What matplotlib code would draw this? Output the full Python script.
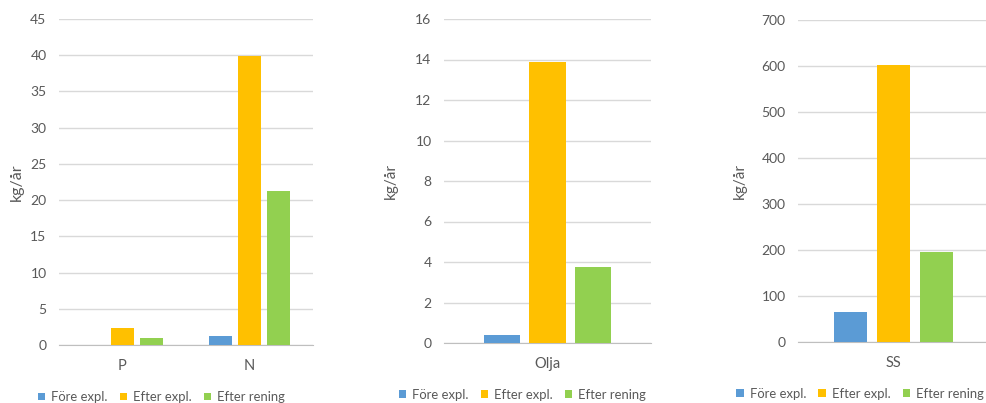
import numpy as np
import matplotlib
matplotlib.use('Agg')
import matplotlib.pyplot as plt

# data
series = ['Före expl.', 'Efter expl.', 'Efter rening']
colors = ['#5B9BD5', '#FFC000', '#92D050']

cats_1 = ['P', 'N']
fore_1 = [0.0, 1.2]
efter_1 = [2.4, 39.9]
rening_1 = [0.95, 21.2]

cats_2 = ['Olja']
fore_2 = [0.4]
efter_2 = [13.9]
rening_2 = [3.75]

cats_3 = ['SS']
fore_3 = [65]
efter_3 = [602]
rening_3 = [195]

W, H = 987, 403
plt.rcParams['font.family'] = ['Lato', 'DejaVu Sans']
TXT = '#595959'

fig = plt.figure(figsize=(W / 100, H / 100), dpi=100)


def px_axes(x0, x1, ytop, ybot):
    return fig.add_axes([x0 / W, 1 - ybot / H, (x1 - x0) / W, (ybot - ytop) / H])


def panel(ax, cats, vals, ymax, ystep, bw, step, leg_x, ylab_x, ylab_size=11):
    x = np.arange(len(cats))
    for i, (v, c) in enumerate(zip(vals, colors)):
        ax.bar(x + (i - 1) * step, v, bw, color=c, label=series[i], zorder=3)
    ax.set_xlim(-0.5, len(cats) - 0.5)
    ax.set_ylim(0, ymax)
    ax.set_yticks(np.arange(0, ymax + ystep / 2, ystep))
    ax.yaxis.grid(True, color='#d9d9d9', linewidth=1, zorder=0)
    ax.set_axisbelow(True)
    for s in ['top', 'right', 'left']:
        ax.spines[s].set_visible(False)
    ax.spines['bottom'].set_color('#bfbfbf')
    ax.set_xticks(x)
    ax.set_xticklabels(cats)
    ax.tick_params(axis='both', length=0, colors=TXT, labelsize=10)
    ax.tick_params(axis='x', pad=10, labelsize=10.5)
    ax.tick_params(axis='y', pad=9)
    ax.set_ylabel('kg/år', color=TXT, fontsize=ylab_size)
    ax.yaxis.set_label_coords(ylab_x, 0.5)
    ax.legend(loc='center left', bbox_to_anchor=(leg_x, -0.16), ncol=3, frameon=False,
              fontsize=9.4, labelcolor=TXT, handlelength=0.55, handleheight=0.55,
              handletextpad=0.45, columnspacing=0.95, borderaxespad=0, borderpad=0)


ax1 = px_axes(59, 313, 19, 345)
panel(ax1, cats_1, [fore_1, efter_1, rening_1], 45, 5, 0.18, 0.225, -0.083, -0.138, 11.5)

ax2 = px_axes(444, 651, 19, 343)
panel(ax2, cats_2, [fore_2, efter_2, rening_2], 16, 2, 0.174, 0.222, -0.217, -0.222)

ax3 = px_axes(798, 989, 20, 342)
panel(ax3, cats_3, [fore_3, efter_3, rening_3], 700, 100, 0.173, 0.225, -0.322, -0.267)

fig.savefig('out.png', dpi=100)
